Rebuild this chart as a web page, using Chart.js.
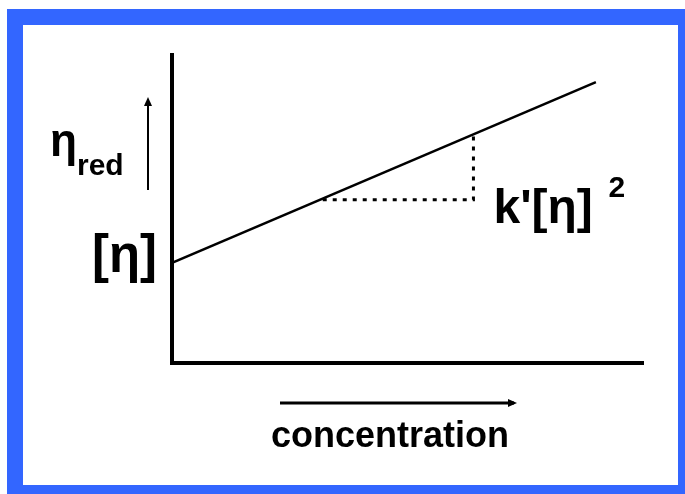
<!DOCTYPE html>
<html>
<head>
<meta charset="utf-8">
<script src="https://cdn.jsdelivr.net/npm/chart.js@4"></script>
<style>
  html, body { margin: 0; padding: 0; background: #fff; }
  #viscCanvas { display: block; }
</style>
</head>
<body>
<canvas id="viscCanvas" width="685" height="494"></canvas>
<script>
// reduced viscosity vs concentration (arbitrary units)
var concentration = [0, 9];
var etaRed = [3.25, 9.12];
// slope triangle under the line: run along c, then rise k'[η]²
var triangleC = [3.2, 6.4, 6.4];
var triangleEta = [5.3, 5.3, 7.4];

var xMax = 10, yMax = 10;
var FONT = '"Liberation Sans", Arial, sans-serif';

function pts(xs, ys) {
  return xs.map(function (x, i) { return { x: x, y: ys[i] }; });
}

// blue frame around the picture
var frame = {
  id: 'frame',
  beforeDraw: function (chart) {
    var c = chart.ctx;
    c.save();
    c.fillStyle = '#fff';
    c.fillRect(0, 0, chart.width, chart.height);
    c.fillStyle = '#3366ff';
    c.fillRect(7, 9, chart.width - 7, chart.height - 9);
    c.fillStyle = '#fff';
    c.fillRect(23, 25, 655, 460);
    c.restore();
  }
};

function arrow(c, x1, y1, x2, y2, w) {
  var a = Math.atan2(y2 - y1, x2 - x1);
  c.lineWidth = w;
  c.beginPath();
  c.moveTo(x1, y1);
  c.lineTo(x2, y2);
  c.stroke();
  c.beginPath();
  c.moveTo(x2 + Math.cos(a) * 3, y2 + Math.sin(a) * 3);
  c.lineTo(x2 - Math.cos(a) * 6 + Math.sin(a) * 4, y2 - Math.sin(a) * 6 - Math.cos(a) * 4);
  c.lineTo(x2 - Math.cos(a) * 6 - Math.sin(a) * 4, y2 - Math.sin(a) * 6 + Math.cos(a) * 4);
  c.closePath();
  c.fill();
}

var labels = {
  id: 'labels',
  afterDraw: function (chart) {
    var c = chart.ctx, xs = chart.scales.x, ys = chart.scales.y;
    c.save();
    c.fillStyle = '#000';
    c.strokeStyle = '#000';
    c.textBaseline = 'alphabetic';
    c.textAlign = 'left';

    // η_red with upward arrow
    c.font = 'bold 46px ' + FONT;
    c.fillText('η', 50, 156, 27);
    c.font = 'bold 30px ' + FONT;
    c.fillText('red', 77, 175, 53);
    arrow(c, 148, 190, 148, 100, 2);

    // [η] at the intercept
    var y0 = ys.getPixelForValue(etaRed[0]);
    c.font = 'bold 53px ' + FONT;
    c.textAlign = 'right';
    c.fillText('[η]', xs.left - 15, y0 + 9, 65);

    // k'[η]² next to the triangle
    c.textAlign = 'left';
    var tx = xs.getPixelForValue(triangleC[2]) + 20;
    var ty = ys.getPixelForValue(triangleEta[0]) + 23;
    c.font = 'bold 48px ' + FONT;
    c.fillText("k'[η]", tx, ty, 109);
    c.font = 'bold 30px ' + FONT;
    c.fillText('2', tx + 115, ty - 26);

    // concentration with right arrow
    c.font = 'bold 36px ' + FONT;
    c.fillText('concentration', 271, 447, 238);
    arrow(c, 280, 403, 514, 403, 3);
    c.restore();
  }
};

new Chart(document.getElementById('viscCanvas'), {
  type: 'line',
  data: {
    datasets: [{
      data: pts(concentration, etaRed),
      borderColor: '#000',
      borderWidth: 2.5,
      pointRadius: 0,
      fill: false
    }, {
      data: pts(triangleC, triangleEta),
      borderColor: '#000',
      borderWidth: 3,
      borderDash: [4, 6],
      pointRadius: 0,
      fill: false
    }]
  },
  options: {
    responsive: false,
    animation: false,
    layout: { padding: { left: 172, top: 55, right: 42, bottom: 131 } },
    plugins: { legend: { display: false }, tooltip: { enabled: false } },
    scales: {
      x: {
        type: 'linear', min: 0, max: xMax,
        grid: { display: false, drawTicks: false },
        border: { display: true, color: '#000', width: 4 },
        ticks: { display: false }
      },
      y: {
        type: 'linear', min: 0, max: yMax,
        grid: { display: false, drawTicks: false },
        border: { display: true, color: '#000', width: 4 },
        ticks: { display: false }
      }
    }
  },
  plugins: [frame, labels]
});
</script>
</body>
</html>
